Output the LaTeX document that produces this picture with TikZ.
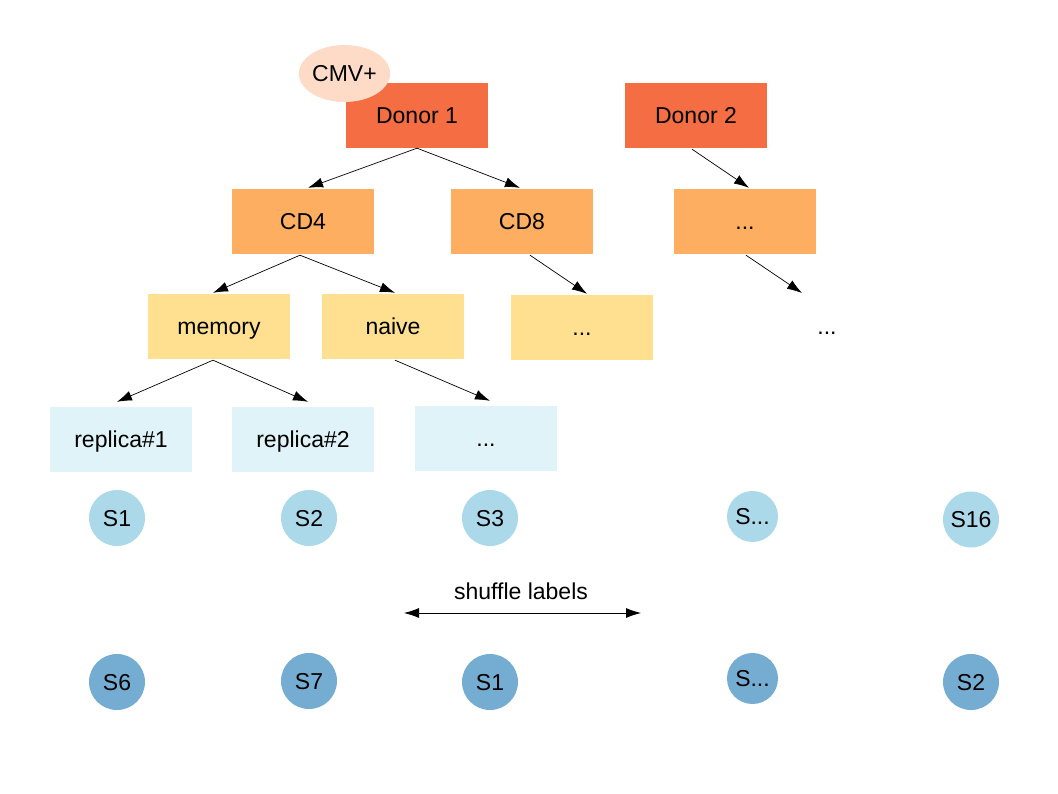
\documentclass[tikz,border=0pt]{standalone}
\usepackage{fontspec}
\setmainfont{Liberation Sans}
\usetikzlibrary{arrows.meta,calc,shapes.geometric}
\definecolor{donorcol}{HTML}{F46D43}
\definecolor{cmvcol}{HTML}{FDDBC7}
\definecolor{cellcol}{HTML}{FDAE61}
\definecolor{subcol}{HTML}{FEE090}
\definecolor{repcol}{HTML}{E0F3F8}
\definecolor{sampcol}{HTML}{ABD9E9}
\definecolor{shufcol}{HTML}{74ADD1}
\begin{document}
\begin{tikzpicture}[x=1pt,y=-1pt,every node/.style={font=\fontsize{23}{27}\selectfont,text height=16.5pt,text depth=0.5pt}]
	\tikzset{plain_box/.style={minimum width=142pt,minimum height=65pt,inner sep=0pt},
		donor_box/.style={plain_box,fill=donorcol},
		cell_box/.style={plain_box,fill=cellcol},
		sub_box/.style={plain_box,fill=subcol},
		rep_box/.style={plain_box,fill=repcol},
		samp_circ/.style={circle,minimum size=56pt,inner sep=0pt,fill=sampcol},
		shuf_circ/.style={samp_circ,fill=shufcol},
		link/.style={-{Latex[length=15pt,width=10pt]},line width=0.7pt}}
	\useasboundingbox (0,0) rectangle (1058,794);
	% donors
	\node[donor_box] (donor1) at (417,115.5) {Donor 1};
	\node[donor_box] (donor2) at (696,115.5) {Donor 2};
	\node[ellipse,fill=cmvcol,minimum width=85pt,minimum height=57pt,inner sep=0pt] (cmv) at (344.5,73.5) {CMV+};
	% cell types
	\node[cell_box] (cd4) at (303,221.5) {CD4};
	\node[cell_box] (cd8) at (522,221.5) {CD8};
	\node[cell_box] (cdmore) at (745,221.5) {...};
	% subsets
	\node[sub_box] (memory) at (219,326.5) {memory};
	\node[sub_box] (naive) at (393,326.5) {naive};
	\node[sub_box] (submore) at (582,327.5) {...};
	\node (dotsfar) at (827,327) {...};
	% replicas
	\node[rep_box] (rep1) at (121,439.5) {replica\#1};
	\node[rep_box] (rep2) at (303,439.5) {replica\#2};
	\node[rep_box] (repmore) at (486,438.5) {...};
	% links
	\draw[link] (donor1.south) -- ($(cd4.north)+(5,-1)$);
	\draw[link] (donor1.south) -- ($(cd8.north)+(-2,-1)$);
	\draw[link] ($(donor2.south)+(-4,1)$) -- ($(cdmore.north)+(4,-1)$);
	\draw[link] ($(cd4.south)+(-3,1)$) -- ($(memory.north)+(-6,-1)$);
	\draw[link] ($(cd4.south)+(-3,1)$) -- ($(naive.north)+(2,-1)$);
	\draw[link] ($(cd8.south)+(8,1)$) -- ($(submore.north)+(5,-1)$);
	\draw[link] ($(cdmore.south)+(1,1)$) -- ($(dotsfar)+(-25,-34)$);
	\draw[link] ($(memory.south)+(-6,1)$) -- ($(rep1.north)+(-4,-5)$);
	\draw[link] ($(memory.south)+(-6,1)$) -- ($(rep2.north)+(5,-5)$);
	\draw[link] ($(naive.south)+(2,1)$) -- ($(repmore.north)+(4,-5)$);
	% samples before and after shuffling
	\node[samp_circ] (sa1) at (117,518) {S1};
	\node[samp_circ] (sa2) at (309,518) {S2};
	\node[samp_circ] (sa3) at (490,518) {S3};
	\node[samp_circ,minimum size=51pt] (samore) at (752.5,516.5) {S...};
	\node[samp_circ] (sa16) at (971,519.5) {S16};
	\node[shuf_circ] (sb1) at (117,682) {S6};
	\node[shuf_circ] (sb2) at (309,681) {S7};
	\node[shuf_circ] (sb3) at (490,682) {S1};
	\node[shuf_circ,minimum size=51pt] (sbmore) at (752.5,678.5) {S...};
	\node[shuf_circ] (sb16) at (971,682) {S2};
	\node (shuftxt) at (521,591) {shuffle labels};
	\coordinate (shufl) at (404,613);
	\coordinate (shufr) at (641,613);
	\draw[{Latex[length=15pt,width=10pt]}-{Latex[length=15pt,width=10pt]},line width=0.8pt] (shufl) -- (shufr);
\end{tikzpicture}
\end{document}
